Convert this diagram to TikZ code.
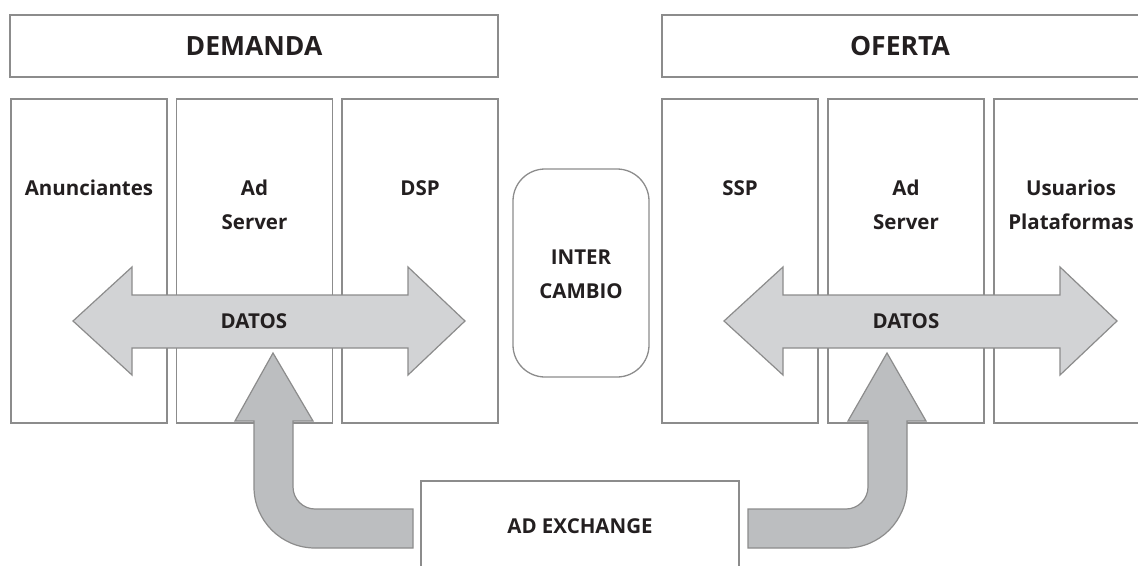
\documentclass[tikz,border=0pt]{standalone}
\usepackage{fontspec}
\setmainfont{Open Sans}
\definecolor{linegray}{HTML}{8C8C8C}
\definecolor{lightfill}{HTML}{D2D3D5}
\definecolor{darkfill}{HTML}{BCBEC0}
\definecolor{txt}{HTML}{231F20}
\tikzset{
  box/.style={draw=linegray, line width=1.3pt, inner sep=0pt, fill=white},
  colbox/.style={box, minimum width=156pt, minimum height=324pt},
  lbl/.style={text=txt, font=\bfseries\fontsize{20.5}{34}\selectfont, align=center, inner sep=0pt},
  head/.style={text=txt, font=\bfseries\fontsize{26.5}{32}\selectfont, inner sep=0pt},
  bigarrow/.style={draw=linegray, line width=1.2pt, line join=miter},
}
\begin{document}
\begin{tikzpicture}[x=1pt,y=-1pt]
\useasboundingbox (0,0) rectangle (1138,565);
\clip (0,0) rectangle (1138,565);
% header boxes
\node[box, minimum width=488pt, minimum height=62pt] (dem) at (254,46) {};
\node[box, minimum width=478pt, minimum height=62pt] (ofe) at (901,46) {};
\node[head] (demt) at (dem.center) {DEMANDA};
\node[head] (ofet) at (900,46) {OFERTA};
% columns
\node[colbox] (c1) at (89,261) {};
\node[colbox] (c2) at (254.5,261) {};
\node[colbox] (c3) at (420,261) {};
\node[colbox] (c4) at (740,261) {};
\node[colbox] (c5) at (906,261) {};
\node[colbox] (c6) at (1072,261) {};
\node[lbl] (t1) at (89,188) {Anunciantes};
\node[lbl] (t2) at (254.5,205) {Ad\\Server};
\node[lbl] (t3) at (420,188) {DSP};
\node[lbl] (t4) at (740,188) {SSP};
\node[lbl] (t5) at (906,205) {Ad\\Server};
\node[lbl] (t6) at (1071,205) {Usuarios\\Plataformas};
% intercambio
\node[box, rounded corners=32pt, minimum width=136pt, minimum height=208pt] (inter) at (581,273) {};
\node[lbl] (intert) at (581,274) {INTER\\CAMBIO};
% ad exchange (open at the bottom)
\coordinate (axl) at (421,570);
\coordinate (axr) at (739,570);
\draw[draw=linegray, line width=1.3pt] (axl) -- (421,481) -- (739,481) -- (axr);
\node[lbl] (axt) at (580,526) {AD EXCHANGE};
% DATOS arrows
\draw[bigarrow, fill=lightfill] (73,321) -- (132,267) -- (132,295) -- (408,295) -- (408,267) -- (465,321) -- (408,375) -- (408,348) -- (132,348) -- (132,375) -- cycle;
\node[lbl] (d1) at (254,321) {DATOS};
\draw[bigarrow, fill=lightfill] (724,321) -- (783,267) -- (783,295) -- (1060,295) -- (1060,267) -- (1117,321) -- (1060,375) -- (1060,348) -- (783,348) -- (783,375) -- cycle;
\node[lbl] (d2) at (906,321) {DATOS};
% up arrows from ad exchange
\draw[bigarrow, fill=darkfill] (273,353) -- (313,421) -- (293,421) -- (293,487) .. controls (293,499.1) and (302.9,509) .. (315,509) -- (413,509) -- (413,548) -- (315,548) .. controls (281.3,548) and (254,520.7) .. (254,487) -- (254,421) -- (235,421) -- cycle;
\draw[bigarrow, fill=darkfill] (887,353) -- (926,421) -- (907,421) -- (907,487) .. controls (907,520.7) and (879.7,548) .. (846,548) -- (748,548) -- (748,509) -- (846,509) .. controls (858.1,509) and (868,499.1) .. (868,487) -- (868,421) -- (848,421) -- cycle;
\end{tikzpicture}
\end{document}
